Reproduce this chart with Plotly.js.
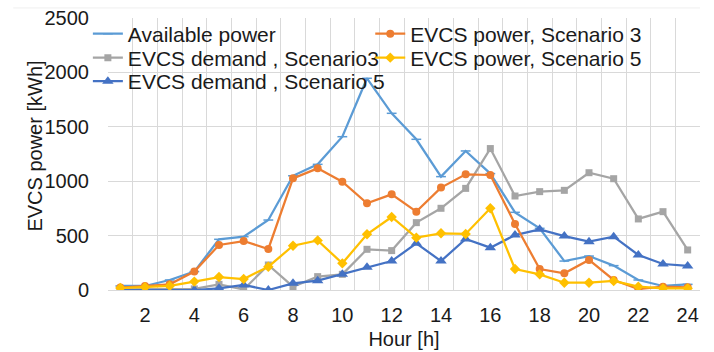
<!DOCTYPE html>
<html>
<head>
<meta charset="utf-8">
<script src="https://cdn.plot.ly/plotly-3.0.1.min.js"></script>
<style>
  html, body { margin: 0; padding: 0; background: #ffffff; }
  #chart { width: 714px; height: 352px; }
</style>
</head>
<body>
<div id="chart"></div>
<script>
// Hourly energy profile of the EV charging station (kWh per hour)
const hours = [1, 2, 3, 4, 5, 6, 7, 8, 9, 10, 11, 12, 13, 14, 15, 16, 17, 18, 19, 20, 21, 22, 23, 24];

const availablePower = [37, 37, 92, 169, 466, 490, 643, 1050, 1155, 1409, 1946, 1624, 1385, 1042, 1278, 1070, 714, 567, 266, 312, 224, 92, 37, 52];
const evcsPowerS3   = [22, 37, 52, 169, 414, 450, 377, 1026, 1118, 996, 797, 879, 720, 941, 1063, 1057, 607, 193, 153, 276, 92, 9, 31, 25];
const evcsDemandS3  = [6, 6, 6, 10, 52, 5, 230, 31, 123, 144, 374, 362, 619, 751, 934, 1300, 864, 904, 916, 1078, 1023, 653, 720, 368];
const evcsPowerS5   = [18, 25, 37, 77, 119, 101, 214, 407, 456, 245, 512, 671, 481, 521, 515, 751, 193, 144, 67, 67, 83, 31, 15, 15];
const evcsDemandS5  = [0, 0, 0, 0, 15, 46, 0, 61, 86, 144, 208, 266, 429, 266, 469, 389, 505, 558, 496, 444, 490, 322, 239, 221];

const xTickVals = [2, 4, 6, 8, 10, 12, 14, 16, 18, 20, 22, 24];
const yTickVals = [0, 500, 1000, 1500, 2000, 2500];

const FONT = 'Arial, "Liberation Sans", sans-serif';
const TEXT = '#1a1a1a';
const GRID = '#d9d9d9';
const FS_LEGEND = 21;
const FS_AXIS = 20;

// Each series gets its own single-entry legend so the two-column key can be placed row by row
function series(name, y, color, symbol, size, legend) {
  return {
    type: 'scatter',
    mode: 'lines+markers',
    name: name,
    x: hours,
    y: y,
    legend: legend,
    line: { color: color, width: 2.25 },
    marker: { color: color, symbol: symbol, size: size,
              line: { color: color, width: symbol === 'line-ew' ? 1.5 : 0 } },
    hoverinfo: 'x+y+name'
  };
}

const traces = [
  series('Available power', availablePower, '#5B9BD5', 'line-ew', 7, 'legend'),
  series('EVCS demand , Scenario3', evcsDemandS3, '#A5A5A5', 'square', 7, 'legend2'),
  series('EVCS demand , Scenario 5', evcsDemandS5, '#4472C4', 'triangle-up', 10, 'legend3'),
  series('EVCS power, Scenario 3', evcsPowerS3, '#ED7D31', 'circle', 8, 'legend4'),
  series('EVCS power, Scenario 5', evcsPowerS5, '#FFC000', 'diamond', 8, 'legend5')
];

function legendAt(x, y) {
  return {
    x: x, y: y,
    orientation: 'v',
    bgcolor: 'rgba(0,0,0,0)',
    borderwidth: 0,
    font: { family: FONT, size: FS_LEGEND, color: TEXT },
    yanchor: 'top',
    xanchor: 'left',
    itemwidth: 30
  };
}

const col1 = -0.034, col2 = 0.443;
const row1 = 1.0165, row2 = 0.9283, row3 = 0.842;

const layout = {
  width: 714,
  height: 352,
  margin: { l: 108, r: 14, t: 18, b: 62 },
  paper_bgcolor: '#ffffff',
  plot_bgcolor: '#ffffff',
  font: { family: FONT, size: FS_AXIS, color: TEXT },
  showlegend: true,
  legend: legendAt(col1, row1),
  legend2: legendAt(col1, row2),
  legend3: legendAt(col1, row3),
  legend4: legendAt(col2, row1),
  legend5: legendAt(col2, row2),
  xaxis: {
    range: [0.5, 24.5],
    tickmode: 'array',
    tickvals: xTickVals,
    ticktext: xTickVals.map(String),
    ticks: '',
    showgrid: false,
    zeroline: false,
    showline: true,
    linecolor: GRID,
    linewidth: 1,
    ticklabelstandoff: 7,
    tickfont: { family: FONT, size: FS_AXIS, color: TEXT },
    minor: { tick0: 0.5, dtick: 1, showgrid: true, gridcolor: GRID, gridwidth: 1, ticks: '' },
    title: { text: 'Hour [h]', font: { family: FONT, size: FS_AXIS, color: TEXT }, standoff: 6 }
  },
  yaxis: {
    range: [0, 2500],
    tickmode: 'array',
    tickvals: yTickVals,
    ticks: '',
    showgrid: true,
    gridcolor: GRID,
    gridwidth: 1,
    zeroline: false,
    showline: false,
    ticklabelstandoff: 18,
    tickfont: { family: FONT, size: FS_AXIS, color: TEXT }
  },
  annotations: [
    { text: 'EVCS power [kWh]', xref: 'paper', yref: 'paper', x: -0.1225, y: 0.529,
      xanchor: 'center', yanchor: 'middle', textangle: -90, showarrow: false,
      font: { family: FONT, size: FS_AXIS, color: TEXT } }
  ],
  shapes: [
    { type: 'line', xref: 'paper', yref: 'paper', x0: -0.16, x1: 1.0, y0: 1.037, y1: 1.037,
      line: { color: '#efefef', width: 1 } }
  ]
};

Plotly.newPlot('chart', traces, layout, { staticPlot: true, displayModeBar: false });
</script>
</body>
</html>
